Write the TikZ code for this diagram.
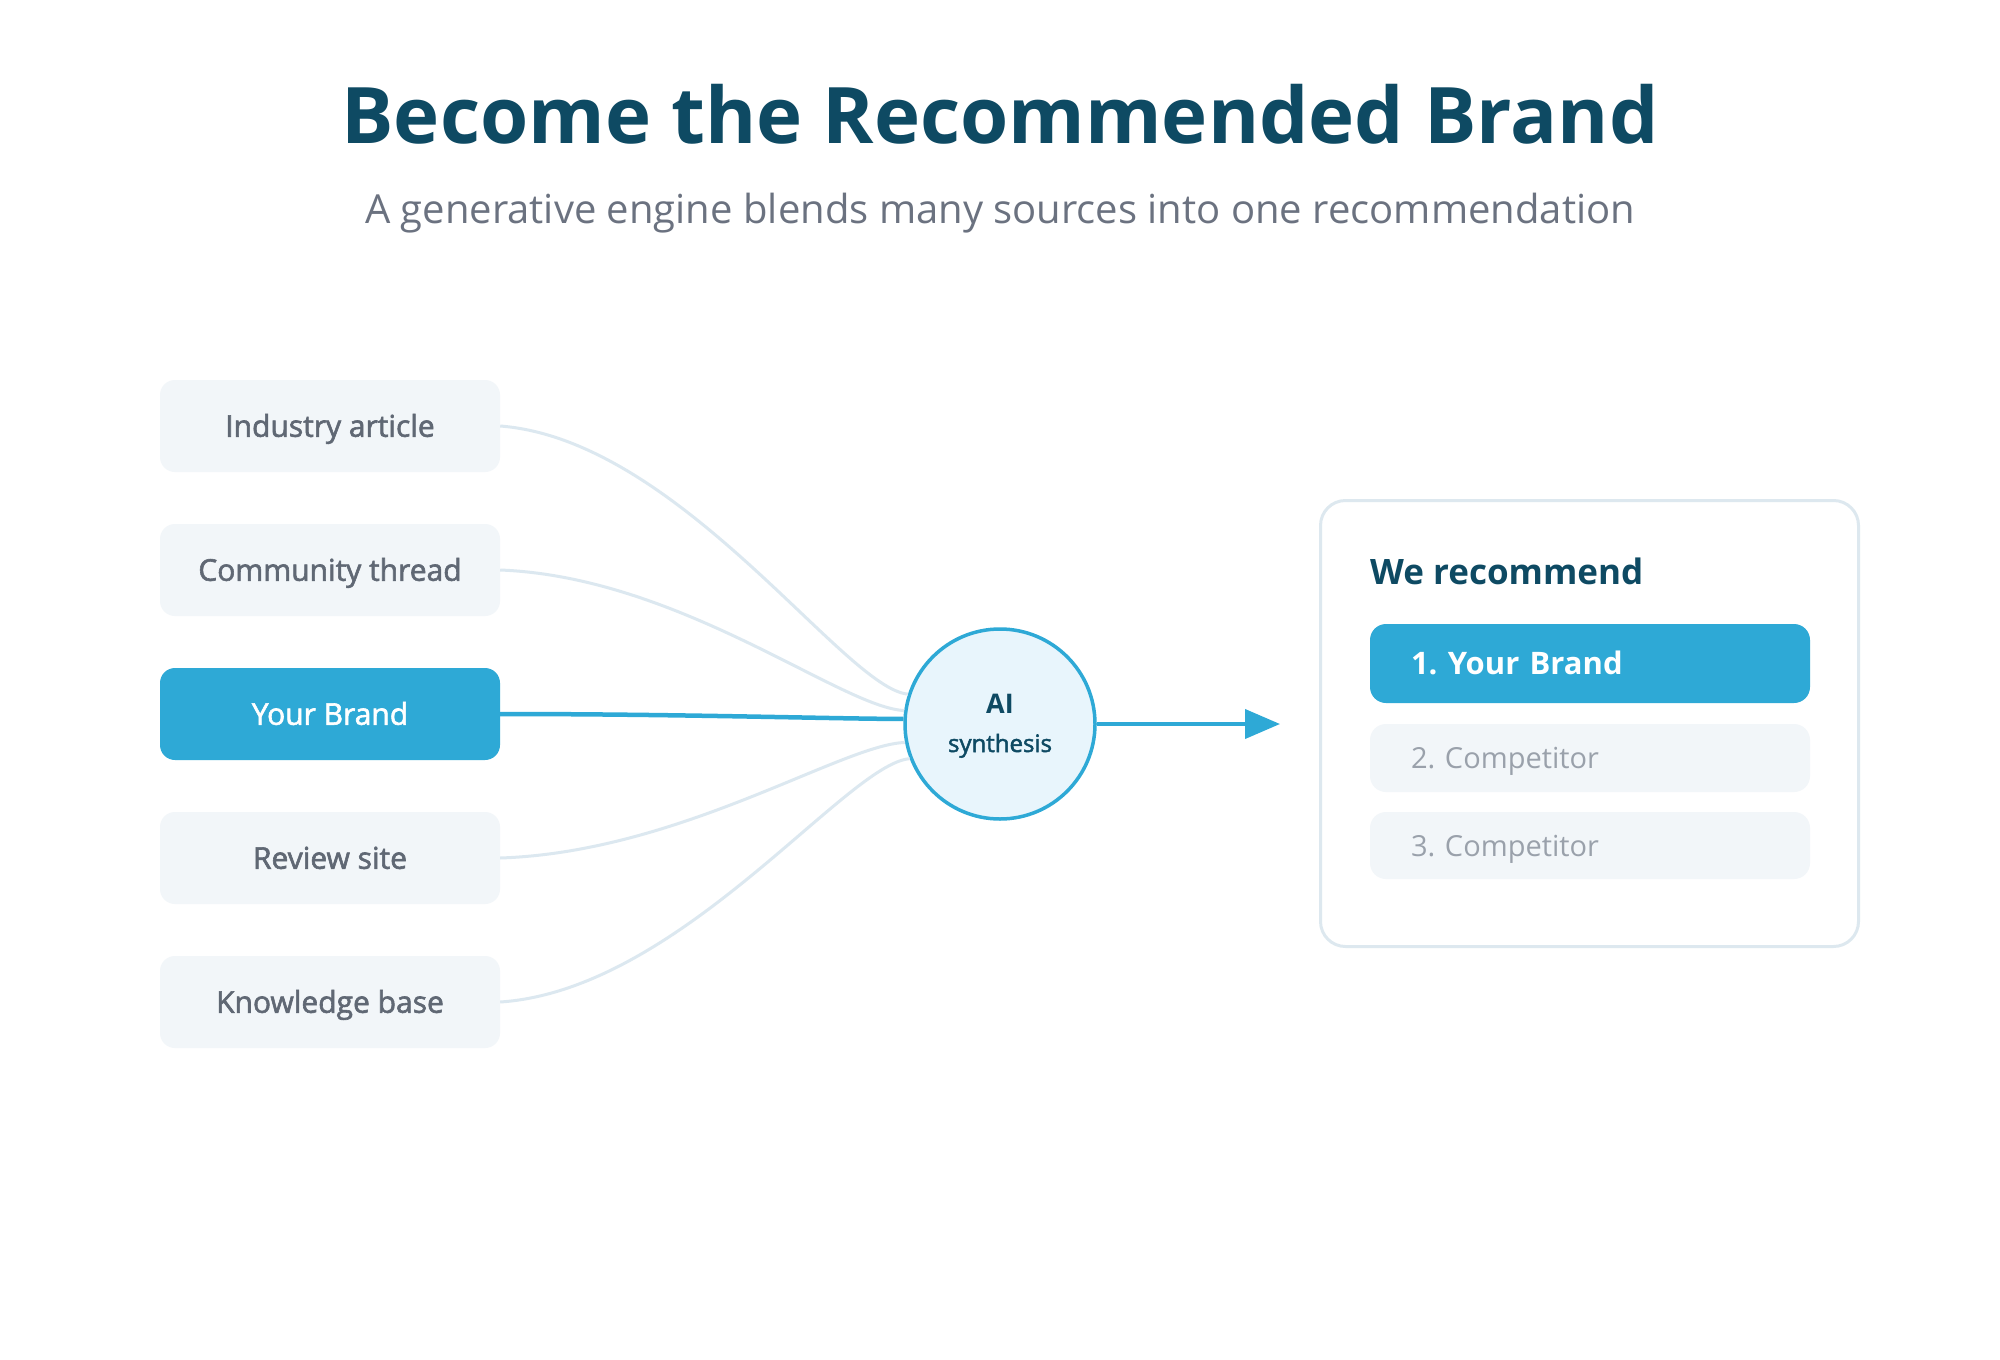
\documentclass[tikz,border=0pt]{standalone}
\usepackage{fontspec}
\setmainfont{Open Sans}
\newfontfamily\semib{Open Sans}[FakeBold=2]
\usetikzlibrary{arrows.meta}
\definecolor{cteal}{RGB}{14,74,99}
\definecolor{cblue}{RGB}{46,169,214}
\definecolor{cbox}{RGB}{242,246,249}
\definecolor{cline}{RGB}{220,232,240}
\definecolor{csrc}{RGB}{96,104,116}
\definecolor{csub}{RGB}{107,114,128}
\definecolor{ccomp}{RGB}{154,161,171}
\definecolor{cfill}{RGB}{232,245,252}
\definecolor{ccard}{RGB}{221,232,239}
\frenchspacing
\begin{document}
\begin{tikzpicture}[x=1pt,y=-1pt,
  srcbox/.style={rectangle, rounded corners=15pt, fill=cbox, minimum width=340pt, minimum height=92pt,
    inner sep=0pt, text=csrc, font={\fontsize{30}{36}\semib}, text height=21.5pt, text depth=0pt},
  brandbox/.style={srcbox, fill=cblue, text=white, font={\fontsize{30}{36}\semib}},
  feed/.style={draw=cline, line width=3pt},
  feedbrand/.style={draw=cblue, line width=4.5pt},
  rankbox/.style={rectangle, rounded corners=16pt, fill=cbox, minimum width=440pt, text width=358pt,
    align=left, inner xsep=41pt, inner ysep=0pt, text=ccomp, font={\fontsize{29}{34}\selectfont},
    text height=21pt, text depth=0pt},
  rankfirst/.style={rankbox, fill=cblue, text=white, font={\fontsize{31}{36}\selectfont\bfseries}, text height=22pt}
]
\useasboundingbox[fill=white] (0,0) rectangle (2000,1360);

% title
\node[anchor=base, inner sep=0pt, text=cteal, font={\fontsize{78}{90}\selectfont\bfseries}] (title) at (1000,143) {Become the Recommended Brand};
\node[anchor=base, inner sep=0pt, text=csub, font={\fontsize{40}{48}\selectfont}] (subtitle) at (1000,223) {A generative engine blends many sources into one recommendation};

% sources
\node[srcbox] (ind) at (330,426) {Industry article};
\node[srcbox] (com) at (330,570) {Community thread};
\node[brandbox] (yb) at (330,714) {Your Brand};
\node[srcbox] (rev) at (330,858) {Review site};
\node[srcbox] (kb) at (330,1002) {Knowledge base};

% AI circle
\node[circle, draw=cblue, line width=3.5pt, fill=cfill, minimum size=190pt, inner sep=0pt] (ai) at (1000,724) {};
\node[anchor=base, inner sep=0pt, text=cteal, font={\fontsize{27}{30}\selectfont\bfseries}] (ailabel) at (1000,713) {AI};
\node[anchor=base, inner sep=0pt, text=cteal, font={\fontsize{24}{28}\semib}] (aisub) at (1000,752) {synthesis};

% feeds
\draw[feed] (ind.east) .. controls +(180,14) and +(-63,-5) .. (ai.162.6);
\draw[feed] (com.east) .. controls +(180,7) and +(-63,-3) .. (ai.172.9);
\draw[feed] (rev.east) .. controls +(180,-6) and +(-63,2) .. (ai.191.9);
\draw[feed] (kb.east) .. controls +(180,-12) and +(-63,5) .. (ai.201.8);
\draw[feedbrand] (yb.east) .. controls +(180,0) and +(-63,0) .. (ai.177.6);

% output arrow
\coordinate (tip) at (1280,724);
\draw[draw=cblue, line width=4pt, -{Triangle[length=35pt,width=29pt]}] (ai.east) -- (tip);

% card
\node[rectangle, draw=ccard, line width=3pt, fill=white, rounded corners=25pt, minimum width=538pt, minimum height=446pt, inner sep=0pt] (card) at (1589.5,723.5) {};
\node[anchor=base west, inner sep=0pt, text=cteal, font={\fontsize{35}{42}\selectfont\bfseries}] (rechead) at (1370,584) {We recommend};
\node[rankfirst, minimum height=79pt] (r1) at (1590,663.5) {1. Your Brand};
\node[rankbox, minimum height=68pt] (r2) at (1590,758) {2. Competitor};
\node[rankbox, minimum height=67pt] (r3) at (1590,845.5) {3. Competitor};
\end{tikzpicture}
\end{document}
